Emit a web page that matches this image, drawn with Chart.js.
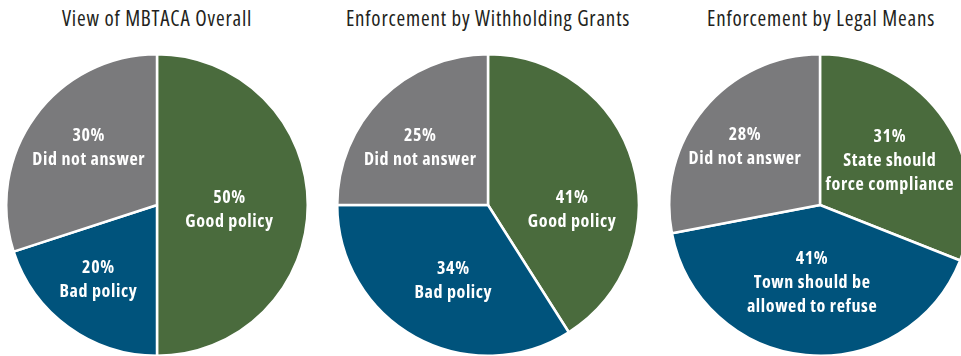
<!DOCTYPE html>
<html lang="en">
  <head>
    <meta charset="UTF-8" />
    <title>MBTACA Survey</title>
    <script src="https://cdn.jsdelivr.net/npm/chart.js"></script>
    <style>
      html, body { margin: 0; padding: 0; background: #fff; overflow: hidden; }
      body { width: 961px; height: 356px; position: relative;
        font-family: "Open Sans", sans-serif; font-stretch: 75%; }
      .title { position: absolute; top: 4px; width: 340px; text-align: center;
        font-size: 21px; font-weight: 500; letter-spacing: 0.8px; color: #231f20;
        white-space: nowrap; }
      .pie { position: absolute; top: 53px; width: 304px; height: 304px; }
    </style>
  </head>
  <body>
    <div class="title" style="left: -13px">View of MBTACA Overall</div>
    <div class="title" style="left: 318px">Enforcement by Withholding Grants</div>
    <div class="title" style="left: 651px">Enforcement by Legal Means</div>

    <div class="pie" style="left: 5px"><canvas id="overallChart"></canvas></div>
    <div class="pie" style="left: 336px"><canvas id="grantsChart"></canvas></div>
    <div class="pie" style="left: 668px"><canvas id="legalChart"></canvas></div>

    <script>
      const overallLabels = ["Good policy", "Bad policy", "Did not answer"];
      const overallValues = [50, 20, 30];

      const grantsLabels = ["Good policy", "Bad policy", "Did not answer"];
      const grantsValues = [41, 34, 25];

      const legalLabels = ["State should\nforce compliance", "Town should be\nallowed to refuse", "Did not answer"];
      const legalValues = [31, 41, 28];

      const sliceColors = ["#4a6b3d", "#00537c", "#7a7a7c"];

      // small shifts of each label block away from the slice centroid
      const overallNudge = [[-12, 5], [-9, 7], [0, -8]];
      const grantsNudge = [[3, 28], [6, 2], [-8, 3]];
      const legalNudge = [[0, 3], [0, -6], [-10, -4]];

      // writes "NN%" plus the category name inside each slice
      const sliceLabels = {
        id: "sliceLabels",
        afterDatasetsDraw(chart, args, opts) {
          const ctx = chart.ctx;
          const meta = chart.getDatasetMeta(0);
          const values = chart.data.datasets[0].data;
          const nudge = opts.nudge || [];
          ctx.save();
          ctx.fillStyle = "#fff";
          ctx.textAlign = "center";
          ctx.textBaseline = "middle";
          ctx.font = '700 18px "Open Sans", sans-serif';
          if ("fontStretch" in ctx) ctx.fontStretch = "condensed";
          if ("letterSpacing" in ctx) ctx.letterSpacing = "0.6px";
          meta.data.forEach((arc, i) => {
            const p = arc.getProps(["x", "y", "startAngle", "endAngle", "outerRadius"], true);
            const mid = (p.startAngle + p.endAngle) / 2;
            const r = p.outerRadius * 0.56;
            const d = nudge[i] || [0, 0];
            const cx = p.x + Math.cos(mid) * r + d[0];
            const cy = p.y + Math.sin(mid) * r + d[1];
            const lines = [values[i] + "%"].concat(chart.data.labels[i].split("\n"));
            const lh = 24;
            const top = cy - ((lines.length - 1) * lh) / 2;
            lines.forEach((line, k) => ctx.fillText(line, cx, top + k * lh));
          });
          ctx.restore();
        },
      };

      function makePie(canvasId, labels, values, nudge) {
        const ctx = document.getElementById(canvasId).getContext("2d");
        new Chart(ctx, {
          type: "pie",
          data: {
            labels: labels,
            datasets: [
              {
                data: values,
                backgroundColor: sliceColors,
                borderColor: "#fff",
                borderWidth: 2.5,
              },
            ],
          },
          options: {
            responsive: true,
            maintainAspectRatio: false,
            animation: false,
            layout: { padding: 0 },
            plugins: {
              legend: { display: false },
              tooltip: { enabled: false },
              sliceLabels: { nudge: nudge },
            },
          },
          plugins: [sliceLabels],
        });
      }

      makePie("overallChart", overallLabels, overallValues, overallNudge);
      makePie("grantsChart", grantsLabels, grantsValues, grantsNudge);
      makePie("legalChart", legalLabels, legalValues, legalNudge);
    </script>
  </body>
</html>
